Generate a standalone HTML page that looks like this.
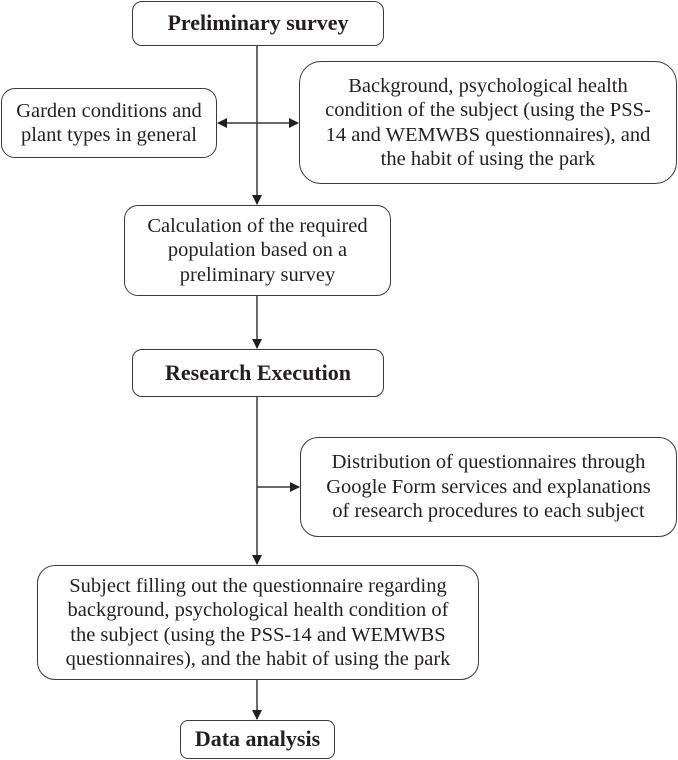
<!DOCTYPE html>
<html><head><meta charset="utf-8"><style>
body{margin:0;width:678px;height:760px;background:#fff;position:relative;overflow:hidden;font-family:"Liberation Serif",serif;color:#231f20}
.b{position:absolute;border:1.5px solid #3a3a3a;border-radius:14px;box-sizing:border-box;display:flex;align-items:center;justify-content:center;text-align:center;font-size:20.5px;line-height:24.5px;white-space:nowrap;background:#fff}
.t{font-weight:bold;font-size:22px;border-radius:10px}
svg{position:absolute;left:0;top:0}
</style></head><body>
<svg width="678" height="760">
<defs><marker id="a" markerWidth="10" markerHeight="10" refX="9" refY="5" orient="auto" markerUnits="userSpaceOnUse"><path d="M0,0 L10,5 L0,10 z" fill="#231f20"/></marker></defs>
<g stroke="#3a3a3a" stroke-width="1.5" fill="none">
<line x1="257" y1="46" x2="257" y2="204" marker-end="url(#a)"/>
<line x1="257" y1="123" x2="218" y2="123" marker-end="url(#a)"/>
<line x1="257" y1="123" x2="298" y2="123" marker-end="url(#a)"/>
<line x1="257" y1="296" x2="257" y2="348" marker-end="url(#a)"/>
<line x1="257" y1="397" x2="257" y2="564" marker-end="url(#a)"/>
<line x1="257" y1="487" x2="299" y2="487" marker-end="url(#a)"/>
<line x1="257" y1="680" x2="257" y2="719" marker-end="url(#a)"/>
</g></svg>
<div class="b t" style="left:132px;top:1px;width:252px;height:45px">Preliminary survey</div>
<div class="b" style="left:1px;top:88px;width:216px;height:70px">Garden conditions and<br>plant types in general</div>
<div class="b" style="left:299px;top:61px;width:378px;height:123px;border-radius:22px">Background, psychological health<br>condition of the subject (using the PSS-<br>14 and WEMWBS questionnaires), and<br>the habit of using the park</div>
<div class="b" style="left:124px;top:205px;width:267px;height:91px">Calculation of the required<br>population based on a<br>preliminary survey</div>
<div class="b t" style="left:132px;top:349px;width:252px;height:48px">Research Execution</div>
<div class="b" style="left:300px;top:437px;width:377px;height:100px;border-radius:18px">Distribution of questionnaires through<br>Google Form services and explanations<br>of research procedures to each subject</div>
<div class="b" style="left:37px;top:565px;width:442px;height:115px;border-radius:18px">Subject filling out the questionnaire regarding<br>background, psychological health condition of<br>the subject (using the PSS-14 and WEMWBS<br>questionnaires), and the habit of using the park</div>
<div class="b t" style="left:180px;top:720px;width:155px;height:39px;border-radius:8px">Data analysis</div>
</body></html>
